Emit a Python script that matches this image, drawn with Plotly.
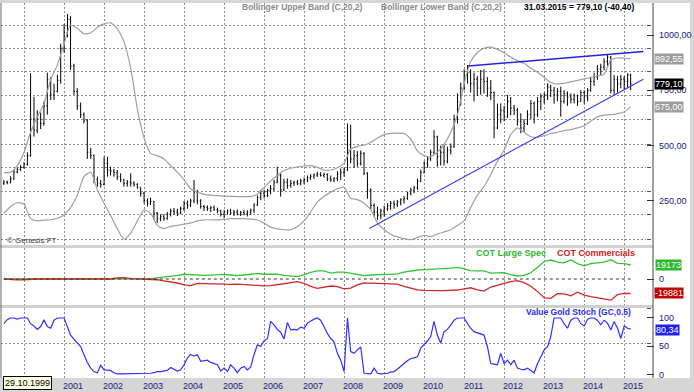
import pandas as pd
import plotly.graph_objects as go

# ---------------- data ----------------
START = "1999-07-01"   # first monthly bar

opens = [330, 335, 332, 350, 380, 392, 402, 415, 455, 620,
         570, 625, 600, 680, 800, 730, 745, 795, 940, 1010,
         1070, 860, 745, 680, 640, 615, 470, 455, 345, 330,
         325, 420, 390, 385, 378, 360, 345, 330, 335, 330,
         325, 312, 285, 250, 240, 248, 195, 170, 178, 172,
         190, 205, 200, 195, 215, 240, 230, 250, 290, 250,
         225, 222, 215, 220, 210, 205, 190, 200, 205, 195,
         200, 190, 198, 195, 200, 208, 232, 265, 285, 275,
         298, 305, 335, 365, 300, 335, 320, 330, 335, 328,
         340, 345, 355, 362, 368, 372, 365, 370, 350, 345,
         352, 372, 380, 390, 480, 440, 455, 420, 465, 375,
         300, 230, 200, 185, 205, 215, 228, 240, 235, 245,
         255, 262, 285, 300, 310, 340, 380, 420, 440, 470,
         540, 450, 470, 430, 480, 495, 620, 700, 760, 820,
         830, 780, 800, 760, 800, 790, 760, 740, 580, 640,
         660, 630, 700, 670, 660, 610, 580, 600, 640, 690,
         640, 700, 720, 730, 765, 750, 730, 745, 700, 735,
         720, 710, 725, 700, 740, 720, 750, 790, 810, 845,
         855, 880, 900, 750, 800, 780, 800, 790, 819.5]
highs = [345, 342, 362, 392, 400, 412, 425, 470, 827, 721,
         660, 650, 700, 830, 810, 780, 820, 960, 1050, 1095,
         1085, 870, 760, 695, 650, 620, 490, 460, 360, 345,
         450, 450, 405, 395, 390, 375, 350, 345, 375, 340,
         330, 312, 290, 262, 265, 250, 200, 190, 190, 200,
         215, 218, 215, 225, 250, 252, 260, 345, 300, 258,
         232, 230, 228, 230, 220, 210, 210, 212, 215, 210,
         212, 205, 210, 208, 215, 240, 275, 300, 300, 305,
         322, 345, 405, 375, 350, 352, 345, 342, 345, 350,
         355, 365, 372, 375, 382, 380, 378, 375, 365, 358,
         385, 397, 400, 600, 595, 480, 475, 478, 470, 380,
         307, 240, 225, 215, 228, 240, 250, 252, 255, 262,
         272, 292, 310, 318, 350, 392, 430, 452, 482, 570,
         545, 500, 505, 495, 510, 640, 736, 785, 845, 864,
         845, 830, 815, 842, 845, 810, 797, 745, 690, 691,
         680, 729, 720, 684, 670, 646, 620, 660, 706, 700,
         720, 736, 740, 782, 775, 766, 760, 766, 751, 745,
         736, 735, 731, 751, 750, 760, 811, 830, 864, 870,
         895, 910, 905, 819, 815, 819, 815, 827, 825]
lows = [322, 325, 330, 345, 375, 385, 396, 410, 450, 541,
        556, 575, 590, 640, 706, 706, 740, 780, 920, 990,
        842, 730, 661, 625, 600, 440, 440, 330, 315, 310,
        320, 360, 365, 360, 345, 335, 315, 315, 315, 315,
        305, 270, 240, 225, 232, 165, 150, 158, 160, 165,
        180, 188, 182, 190, 205, 215, 222, 240, 235, 215,
        205, 205, 200, 205, 195, 180, 172, 188, 188, 182,
        185, 182, 185, 180, 188, 195, 228, 255, 262, 268,
        280, 295, 330, 270, 295, 305, 310, 318, 322, 320,
        325, 335, 345, 350, 358, 360, 355, 340, 337, 335,
        340, 345, 360, 385, 420, 400, 405, 410, 367, 260,
        210, 180, 165, 168, 180, 205, 210, 215, 222, 230,
        238, 255, 275, 285, 300, 335, 375, 400, 430, 460,
        405, 410, 410, 420, 460, 490, 600, 680, 750, 780,
        740, 700, 725, 730, 735, 720, 706, 533, 575, 601,
        610, 625, 638, 638, 590, 556, 560, 593, 620, 600,
        630, 661, 690, 706, 720, 690, 700, 631, 690, 680,
        691, 691, 680, 699, 690, 700, 744, 770, 797, 820,
        840, 857, 736, 729, 740, 759, 755, 760, 751]
closes = [335, 332, 350, 380, 392, 402, 415, 455, 620, 570,
          625, 600, 680, 800, 730, 745, 795, 940, 1010, 1070,
          860, 745, 680, 640, 615, 470, 455, 345, 330, 325,
          420, 390, 385, 378, 360, 345, 330, 335, 330, 325,
          312, 285, 250, 240, 248, 195, 170, 178, 172, 190,
          205, 200, 195, 215, 240, 230, 250, 290, 250, 225,
          222, 215, 220, 210, 205, 190, 200, 205, 195, 200,
          190, 198, 195, 200, 208, 232, 265, 285, 275, 298,
          305, 335, 365, 300, 335, 320, 330, 335, 328, 340,
          345, 355, 362, 368, 372, 365, 370, 350, 345, 352,
          372, 380, 390, 480, 440, 455, 420, 465, 375, 300,
          230, 200, 185, 205, 215, 228, 240, 235, 245, 255,
          262, 285, 300, 310, 340, 380, 420, 440, 470, 540,
          450, 470, 430, 480, 495, 620, 700, 760, 820, 830,
          780, 800, 760, 800, 790, 760, 740, 580, 640, 660,
          630, 700, 670, 660, 610, 580, 600, 640, 690, 640,
          700, 720, 730, 765, 750, 730, 745, 700, 735, 720,
          710, 725, 700, 740, 720, 750, 790, 810, 845, 855,
          880, 900, 750, 800, 780, 800, 790, 819.5, 779.1]

# Bollinger bands, read every second month
bb_upper = [378, 380, 410, 470, 560, 630, 690, 800, 865, 960,
            1045, 1030, 1005, 1010, 1035, 1050, 1055, 1028, 970, 850,
            665, 535, 465, 455, 440, 410, 380, 345, 305, 290,
            280, 276, 274, 272, 271, 270, 270, 270, 282, 310,
            340, 365, 388, 398, 404, 408, 410, 402, 390, 390,
            400, 420, 485, 497, 502, 515, 535, 550, 555, 557,
            555, 530, 475, 455, 450, 470, 505, 560, 640, 780,
            880, 920, 940, 945, 935, 920, 900, 885, 872, 850,
            832, 808, 785, 778, 782, 788, 795, 802, 808, 815,
            822, 888, 896, 895, 892.55]
bb_lower = [194, 225, 242, 235, 170, 160, 163, 165, 172, 187,
            220, 275, 360, 380, 300, 240, 185, 125, 78, 105,
            160, 210, 195, 140, 125, 135, 140, 145, 150, 160,
            165, 165, 165, 167, 170, 170, 170, 168, 164, 150,
            132, 124, 120, 120, 135, 160, 200, 245, 270, 290,
            305, 312, 262, 256, 240, 210, 150, 120, 100, 88,
            80, 75, 85, 95, 90, 100, 110, 120, 140, 160,
            220, 275, 315, 370, 430, 480, 550, 580, 560, 540,
            538, 545, 555, 560, 568, 572, 580, 590, 610, 630,
            638, 640, 645, 652, 675]

# COT positions, read every second month
cot_large_spec = [0, 0, 0, 0, 0, 0, 0, 0, 0, 0,
                  0, 0, 0, 0, 0, 0, 0, 0, 0, 0,
                  0, 0, 300, 1500, 3000, 4000, 5000, 6500, 6000, 4600,
                  5000, 5400, 5800, 6400, 5500, 4600, 5500, 7000, 7700, 6500,
                  6600, 6800, 5000, 4000, 3300, 6000, 9000, 11000, 11000, 8000,
                  9500, 9500, 8000, 6000, 4600, 5500, 6400, 6400, 6400, 7000,
                  9500, 11000, 12300, 12800, 13200, 13400, 13700, 14800, 16000, 14000,
                  11500, 11000, 11000, 8000, 8200, 8700, 6000, 4100, 5000, 8500,
                  16000, 24000, 26000, 23000, 22000, 26000, 21000, 18000, 21000, 22400,
                  23000, 26500, 21500, 21000, 19173]
cot_commercials = [0, -800, -1300, -1000, 0, 0, 0, 0, 0, 0,
                   0, 0, 0, 0, 0, 0, 0, 1500, 2000, 500,
                   0, 0, 0, -1000, -2500, -3500, -5500, -8000, -9000, -6000,
                   -6300, -6800, -7500, -8200, -7500, -6900, -7500, -8200, -8800, -9500,
                   -9000, -8200, -6500, -5000, -3700, -6000, -10000, -12700, -11500, -9600,
                   -10500, -13500, -12500, -8000, -5200, -5500, -5900, -6000, -6000, -7000,
                   -10000, -13000, -15000, -15500, -16000, -16000, -16000, -15800, -15100, -13500,
                   -12000, -15000, -16500, -11000, -8000, -6000, -3500, -2300, -5000, -10000,
                   -17000, -26000, -26500, -20000, -20500, -23000, -18000, -22000, -24000, -25500,
                   -27500, -29000, -21500, -19700, -19881]

# Value Gold Stoch (GC,0.5), monthly
stoch = [90, 97, 100, 100, 98, 100, 100, 100, 90, 86,
         80, 85, 97, 85, 82, 96, 100, 100, 100, 84,
         70, 63, 57, 50, 36, 22, 12, 6, 4, 17,
         9, 9, 8, 4, 2, 2, 2, 2, 2, 2,
         2, 2, 2, 2, 3, 4, 6, 6, 7, 8,
         13, 10, 7, 9, 18, 30, 36, 33, 36, 24,
         25, 26, 22, 20, 18, 7, 12, 6, 18, 12,
         4, 12, 15, 9, 14, 36, 53, 50, 60, 64,
         94, 88, 80, 75, 63, 92, 79, 80, 79, 84,
         82, 91, 95, 98, 100, 96, 85, 73, 64, 58,
         38, 26, 6, 100, 41, 38, 44, 49, 3, 2,
         2, 12, 3, 2, 2, 3, 5, 6, 10, 16,
         20, 25, 29, 30, 32, 47, 53, 60, 67, 94,
         70, 56, 76, 80, 88, 96, 100, 100, 100, 90,
         82, 76, 74, 72, 70, 50, 20, 19, 18, 38,
         20, 26, 18, 26, 12, 10, 9, 12, 8, 4,
         20, 32, 44, 50, 67, 100, 100, 100, 90, 82,
         96, 100, 100, 90, 86, 98, 100, 100, 96, 88,
         96, 91, 79, 94, 82, 64, 86, 82, 80.34]

# trend lines
trend_up_dates = ["2011-02-09", "2015-06-25"]
trend_up_values = [860, 925]
trend_lo_dates = ["2008-08-18", "2015-06-25"]
trend_lo_values = [126, 800]

# axis labels / grid levels
years = list(range(2000, 2016))
year_labels = [""] + [str(y) for y in years[1:]]
main_ticks = [250, 500, 750, 1000]
main_tick_labels = ["250,00", "500,00", "750,00", "1000,00"]
main_grid = [77, 187, 292, 400, 507, 619, 726, 834, 940, 1045]
cot_ticks = [0]
cot_tick_labels = ["0"]
stoch_ticks = [0, 50, 100]
stoch_tick_labels = ["0", "50", "100"]
stoch_grid = [56, 117]

# ---------------- geometry ----------------
W, H = 694, 392
ML, MR, MT, MB = 1, 48, 3, 14
PW = W - ML - MR
PH = H - MT - MB


def px(x):
    return (x - ML) / PW


def py(y):
    return (H - MB - y) / PH


dates = pd.date_range(START, periods=len(closes), freq="MS")
dates2 = dates[::2]

FONT = "Liberation Sans, Arial, sans-serif"
NAVY = "#1a1a80"
GRID = "#8c8c8c"

fig = go.Figure()

fig.add_trace(go.Scatter(x=dates2, y=bb_upper, mode="lines", line=dict(color="#a0a0a0", width=1.2, shape="spline", smoothing=0.6),
                         xaxis="x", yaxis="y", hoverinfo="skip", showlegend=False))
fig.add_trace(go.Scatter(x=dates2, y=bb_lower, mode="lines", line=dict(color="#a0a0a0", width=1.2, shape="spline", smoothing=0.6),
                         xaxis="x", yaxis="y", hoverinfo="skip", showlegend=False))
fig.add_trace(go.Ohlc(x=dates, open=opens, high=highs, low=lows, close=closes,
                      increasing=dict(line=dict(color="#000000", width=1)),
                      decreasing=dict(line=dict(color="#000000", width=1)),
                      tickwidth=0.3, xaxis="x", yaxis="y", hoverinfo="skip", showlegend=False))
fig.add_trace(go.Scatter(x=trend_up_dates, y=trend_up_values, mode="lines", line=dict(color="#2424e0", width=1.5),
                         xaxis="x", yaxis="y", hoverinfo="skip", showlegend=False))
fig.add_trace(go.Scatter(x=trend_lo_dates, y=trend_lo_values, mode="lines", line=dict(color="#3a3aff", width=1.2),
                         xaxis="x", yaxis="y", hoverinfo="skip", showlegend=False))

fig.add_trace(go.Scatter(x=dates2, y=cot_large_spec, mode="lines", line=dict(color="#33c433", width=1.3),
                         xaxis="x2", yaxis="y2", hoverinfo="skip", showlegend=False))
fig.add_trace(go.Scatter(x=dates2, y=cot_commercials, mode="lines", line=dict(color="#d02828", width=1.3),
                         xaxis="x2", yaxis="y2", hoverinfo="skip", showlegend=False))
fig.add_trace(go.Scatter(x=[dates[0], dates[-1]], y=[0, 0], mode="lines", line=dict(color="#333333", width=1, dash="3px,3px"),
                         xaxis="x2", yaxis="y2", hoverinfo="skip", showlegend=False))

fig.add_trace(go.Scatter(x=dates, y=stoch, mode="lines", line=dict(color="#3030ff", width=1.2),
                         xaxis="x3", yaxis="y3", hoverinfo="skip", showlegend=False))

x_range = ["1999-06-05", "2015-07-19"]
year_dates = [pd.Timestamp(f"{y}-01-01") for y in years]
xbase = dict(range=x_range, tickmode="array", tickvals=year_dates, showgrid=True, gridcolor=GRID,
             griddash="2px,2px", gridwidth=1, zeroline=False, showline=False, ticks="",
             showticklabels=False, fixedrange=True, automargin=False)

main_dom = [py(246), 1]
cot_dom = [py(306), py(248)]
sto_dom = [0, py(308)]

ybase = dict(side="right", showgrid=False, zeroline=False, showline=False, ticks="outside", ticklen=7,
             tickcolor="#333333", tickwidth=1, showticklabels=False, fixedrange=True, automargin=False)

fig.update_layout(
    template="none",
    width=W, height=H, margin=dict(l=ML, r=MR, t=MT, b=MB, autoexpand=False),
    paper_bgcolor="#ffffff", plot_bgcolor="#ffffff", showlegend=False,
    xaxis=dict(xbase, domain=[0, 1], anchor="y", rangeslider=dict(visible=False)),
    xaxis2=dict(xbase, domain=[0, 1], anchor="y2", matches="x"),
    xaxis3=dict(xbase, domain=[0, 1], anchor="y3", matches="x"),
    yaxis=dict(ybase, domain=main_dom, anchor="x", range=[46.5, 1144.6], tickmode="array",
               tickvals=main_ticks,
               minor=dict(tickmode="array", tickvals=main_grid, showgrid=True, gridcolor=GRID,
                          griddash="2px,2px", ticks="outside", ticklen=4, tickcolor="#555555")),
    yaxis2=dict(ybase, domain=cot_dom, anchor="x2", range=[-36990, 42470], tickmode="array",
                tickvals=cot_ticks),
    yaxis3=dict(ybase, domain=sto_dom, anchor="x3", range=[-5.3, 117.5], tickmode="array",
                tickvals=stoch_ticks,
                minor=dict(tickmode="array", tickvals=stoch_grid, showgrid=True, gridcolor=GRID,
                           griddash="2px,2px", ticks="outside", ticklen=4, tickcolor="#555555")),
)

# frame pieces
shapes = [
    dict(type="rect", xref="paper", yref="paper", x0=px(0), x1=px(W), y0=py(3), y1=py(0),
         fillcolor="#d6d6d6", line_width=0, layer="below"),
    dict(type="rect", xref="paper", yref="paper", x0=px(0), x1=px(W), y0=py(H), y1=py(378),
         fillcolor="#d6d6d6", line_width=0, layer="below"),
    dict(type="rect", xref="paper", yref="paper", x0=px(690), x1=px(W), y0=py(H), y1=py(0),
         fillcolor="#d6d6d6", line_width=0, layer="below"),
    dict(type="rect", xref="paper", yref="paper", x0=px(0), x1=px(653), y0=py(248), y1=py(245),
         fillcolor="#d0d0d0", line_width=0),
    dict(type="rect", xref="paper", yref="paper", x0=px(0), x1=px(653), y0=py(308), y1=py(305),
         fillcolor="#d0d0d0", line_width=0),
    dict(type="line", xref="paper", yref="paper", x0=px(1), x1=px(1), y0=py(378), y1=py(3),
         line=dict(color="#666666", width=1)),
    dict(type="line", xref="paper", yref="paper", x0=px(653), x1=px(653), y0=py(378), y1=py(3),
         line=dict(color="#444444", width=1)),
]
fig.update_layout(shapes=shapes)


def label(text, x, y, color, size=8.5, bold=True, anchor="left"):
    t = f"<b>{text}</b>" if bold else text
    return dict(text=t, x=px(x), y=py(y), xref="paper", yref="paper", xanchor=anchor, yanchor="middle",
                showarrow=False, font=dict(family=FONT, size=size, color=color))


def box(text, x, y, bg, fg="#ffffff"):
    return dict(text=text, x=px(x), y=py(y), xref="paper", yref="paper", xanchor="left", yanchor="middle",
                showarrow=False, bgcolor=bg, borderpad=0, font=dict(family=FONT, size=9, color=fg))


def ytick(text, value, yref):
    return dict(text=text, x=px(657), y=value, xref="paper", yref=yref, xanchor="left", yanchor="middle",
                showarrow=False, font=dict(family=FONT, size=9, color=NAVY))


annotations = []
for v, t in zip(main_ticks, main_tick_labels):
    annotations.append(ytick(t, v, "y"))
for v, t in zip(cot_ticks, cot_tick_labels):
    annotations.append(ytick(t, v, "y2"))
for v, t in zip(stoch_ticks, stoch_tick_labels):
    annotations.append(ytick(t, v, "y3"))
for d, t in zip(year_dates, year_labels):
    if t:
        annotations.append(dict(text=t, x=d, xref="x3", xshift=9, y=py(385.5), yref="paper",
                                xanchor="center", yanchor="middle", showarrow=False,
                                font=dict(family=FONT, size=9, color=NAVY)))

annotations += [
    label("Bollinger Upper Band (C,20,2)", 240, 7, "#8a8a8a"),
    label("Bollinger Lower Band (C,20,2)", 379, 7, "#8a8a8a"),
    label("31.03.2015 = 779,10 (-40,40)", 522, 7, "#000000"),
    label("© Genesis FT", 5, 240, "#333333", size=8, bold=False),
    label("COT Large Spec", 474, 253, "#2db82d", size=9),
    label("COT Commercials", 555, 253, "#d02020", size=9),
    label("Value Gold Stoch (GC,0.5)", 524, 312, "#2a2aff"),
    box("892,55", 654, 59, "#9c9c9c"),
    box("779,10", 654, 83.5, "#000000"),
    box("675,00", 654, 107.5, "#9c9c9c"),
    box("19173", 655, 265, "#2eb82e"),
    box("-19881", 654, 293, "#c00000"),
    box("80,34", 655, 329.5, "#2020f0"),
    dict(text="29.10.1999", x=px(3), y=py(382.5), xref="paper", yref="paper", xanchor="left", yanchor="middle",
         showarrow=False, bgcolor="#ffffe6", bordercolor="#000000", borderwidth=1, borderpad=1,
         font=dict(family=FONT, size=9, color="#000000")),
]
fig.update_layout(annotations=annotations)

fig.write_html("out.html", config={"responsive": False, "displayModeBar": False},
               post_script="document.body.style.margin='0';document.body.style.padding='0';"
                           "document.body.style.overflow='hidden';")
